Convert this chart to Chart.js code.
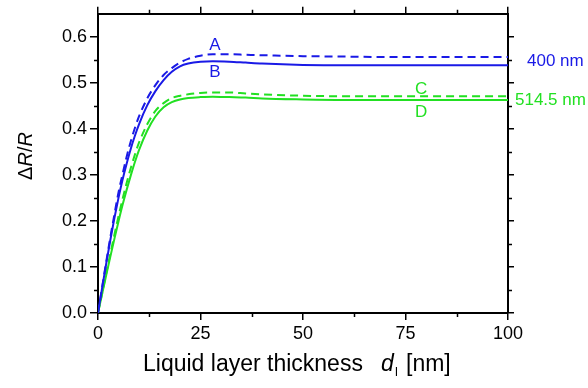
<!DOCTYPE html>
<html>
<head>
<meta charset="utf-8">
<script src="https://cdn.jsdelivr.net/npm/chart.js@4.4.1/dist/chart.umd.min.js"></script>
<style>
  html, body { margin: 0; padding: 0; background: #ffffff; }
  #wrap { width: 588px; height: 388px; position: relative; }
</style>
</head>
<body>
<div id="wrap"><canvas id="c" width="588" height="388"></canvas></div>
<script>
// Liquid layer thickness d_l [nm]
const thickness = [0, 1, 2, 3, 4, 5, 6, 7, 8, 9, 10, 12, 14, 16, 18, 20, 22, 25, 28, 32, 36, 40, 50, 60, 75, 100];

// ΔR/R, 400 nm
const curveA = [0, 0.056, 0.111, 0.164, 0.214, 0.262, 0.302, 0.340, 0.373, 0.402, 0.427, 0.466, 0.495, 0.517, 0.532, 0.544, 0.552, 0.559, 0.562, 0.562, 0.561, 0.560, 0.558, 0.557, 0.556, 0.556];
const curveB = [0, 0.054, 0.107, 0.158, 0.206, 0.250, 0.290, 0.325, 0.357, 0.385, 0.410, 0.451, 0.482, 0.506, 0.524, 0.536, 0.542, 0.546, 0.547, 0.546, 0.544, 0.542, 0.539, 0.538, 0.538, 0.538];
// ΔR/R, 514.5 nm
const curveC = [0, 0.043, 0.086, 0.128, 0.170, 0.210, 0.248, 0.283, 0.315, 0.344, 0.370, 0.410, 0.439, 0.456, 0.467, 0.472, 0.475, 0.478, 0.479, 0.479, 0.477, 0.475, 0.472, 0.471, 0.471, 0.471];
const curveD = [0, 0.041, 0.082, 0.122, 0.161, 0.199, 0.235, 0.268, 0.299, 0.328, 0.354, 0.396, 0.427, 0.447, 0.458, 0.464, 0.467, 0.469, 0.470, 0.469, 0.468, 0.466, 0.464, 0.463, 0.463, 0.463];

const xTicks = [0, 25, 50, 75, 100];
const xMinorTicks = [12.5, 37.5, 62.5, 87.5];
const yMinorTicks = [0.05, 0.15, 0.25, 0.35, 0.45, 0.55];

const BLUE = '#1a1ae6';
const GREEN = '#22e022';
const FONT = '"Liberation Sans", Arial, Helvetica, sans-serif';

function pts(ys) { return thickness.map((x, i) => ({ x: x, y: ys[i] })); }

function lineSet(label, ys, color, dashed) {
  return {
    label: label,
    data: pts(ys),
    borderColor: color,
    backgroundColor: color,
    borderWidth: 2,
    borderDash: dashed ? [8, 5] : [],
    pointRadius: 0,
    fill: false,
    cubicInterpolationMode: 'monotone'
  };
}

// Minor tick marks on all four sides, plus the curve labels and axis titles
const decorations = {
  id: 'decorations',
  afterDraw(chart) {
    const ctx = chart.ctx;
    const xs = chart.scales.x, ys = chart.scales.y;
    const area = chart.chartArea;
    ctx.save();
    ctx.strokeStyle = '#000';
    ctx.lineWidth = 1.5;
    ctx.beginPath();
    xMinorTicks.forEach(v => {
      const px = Math.round(xs.getPixelForValue(v)) + 0.5;
      ctx.moveTo(px, area.bottom); ctx.lineTo(px, area.bottom + 4);
      ctx.moveTo(px, area.top); ctx.lineTo(px, area.top - 4);
    });
    yMinorTicks.forEach(v => {
      const py = Math.round(ys.getPixelForValue(v)) + 0.5;
      ctx.moveTo(area.left, py); ctx.lineTo(area.left - 4, py);
      ctx.moveTo(area.right, py); ctx.lineTo(area.right + 4, py);
    });
    ctx.stroke();

    // curve letters
    ctx.font = '17px ' + FONT;
    ctx.textAlign = 'center';
    ctx.textBaseline = 'middle';
    ctx.fillStyle = BLUE;
    ctx.fillText('A', xs.getPixelForValue(28.5), ys.getPixelForValue(0.582));
    ctx.fillText('B', xs.getPixelForValue(28.5), ys.getPixelForValue(0.523));
    ctx.fillStyle = GREEN;
    ctx.fillText('C', xs.getPixelForValue(78.8), ys.getPixelForValue(0.487));
    ctx.fillText('D', xs.getPixelForValue(78.8), ys.getPixelForValue(0.435));

    // wavelength labels beside the right axis
    ctx.textAlign = 'left';
    ctx.fillStyle = BLUE;
    ctx.fillText('400 nm', area.right + 19, ys.getPixelForValue(0.546));
    ctx.fillStyle = GREEN;
    ctx.fillText('514.5 nm', area.right + 7, ys.getPixelForValue(0.463));

    // x-axis title
    ctx.fillStyle = '#000';
    ctx.textBaseline = 'alphabetic';
    ctx.textAlign = 'left';
    const base = 371;
    ctx.font = '23px ' + FONT;
    ctx.fillText('Liquid layer thickness', 143, base);
    ctx.font = 'italic 23px ' + FONT;
    ctx.fillText('d', 381, base);
    ctx.font = '13px ' + FONT;
    ctx.fillText('l', 395, base + 5);
    ctx.font = '23px ' + FONT;
    ctx.fillText('[nm]', 406, base);

    // y-axis title
    ctx.translate(32, 156);
    ctx.rotate(-Math.PI / 2);
    ctx.textAlign = 'left';
    ctx.font = '20px ' + FONT;
    const w1 = ctx.measureText('\u0394').width;
    ctx.font = 'italic 20px ' + FONT;
    const w2 = ctx.measureText('R').width;
    ctx.font = '20px ' + FONT;
    const w3 = ctx.measureText('/').width;
    ctx.font = 'italic 20px ' + FONT;
    const w4 = ctx.measureText('R').width;
    let x0 = -(w1 + w2 + w3 + w4) / 2;
    ctx.font = '20px ' + FONT;
    ctx.fillText('\u0394', x0, 0); x0 += w1;
    ctx.font = 'italic 20px ' + FONT;
    ctx.fillText('R', x0, 0); x0 += w2;
    ctx.font = '20px ' + FONT;
    ctx.fillText('/', x0, 0); x0 += w3;
    ctx.font = 'italic 20px ' + FONT;
    ctx.fillText('R', x0, 0);
    ctx.restore();
  }
};

const axisGrid = { drawOnChartArea: false, drawTicks: true, tickLength: 8, color: '#000', lineWidth: 1.5 };
const axisBorder = { display: true, width: 2, color: '#000' };

new Chart(document.getElementById('c'), {
  type: 'line',
  data: {
    datasets: [
      lineSet('A', curveA, BLUE, true),
      lineSet('B', curveB, BLUE, false),
      lineSet('C', curveC, GREEN, true),
      lineSet('D', curveD, GREEN, false)
    ]
  },
  options: {
    responsive: false,
    animation: false,
    layout: { padding: 0 },
    plugins: { legend: { display: false }, tooltip: { enabled: false } },
    scales: {
      x: {
        type: 'linear', position: 'bottom', min: 0, max: 100,
        afterBuildTicks: s => { s.ticks = xTicks.map(v => ({ value: v })); },
        ticks: { font: { size: 18, family: FONT }, color: '#000', padding: 3, maxRotation: 0, callback: v => String(v) },
        grid: Object.assign({}, axisGrid, { tickLength: 7 }),
        border: axisBorder,
        afterFit: s => { s.height = 75; }
      },
      x2: {
        type: 'linear', position: 'top', min: 0, max: 100,
        afterBuildTicks: s => { s.ticks = xTicks.map(v => ({ value: v })); },
        ticks: { display: false },
        grid: Object.assign({}, axisGrid, { tickLength: 7 }),
        border: axisBorder,
        afterFit: s => { s.height = 12; }
      },
      y: {
        type: 'linear', position: 'left', min: 0, max: 0.65,
        ticks: { stepSize: 0.1, includeBounds: false, font: { size: 18, family: FONT }, color: '#000', padding: 3, callback: v => v.toFixed(1) },
        grid: axisGrid,
        border: axisBorder,
        afterFit: s => { s.width = 98; }
      },
      y2: {
        type: 'linear', position: 'right', min: 0, max: 0.65,
        ticks: { display: false, stepSize: 0.1, includeBounds: false },
        grid: Object.assign({}, axisGrid, { tickLength: 6 }),
        border: axisBorder,
        afterFit: s => { s.width = 80; }
      }
    }
  },
  plugins: [decorations]
});
</script>
</body>
</html>
